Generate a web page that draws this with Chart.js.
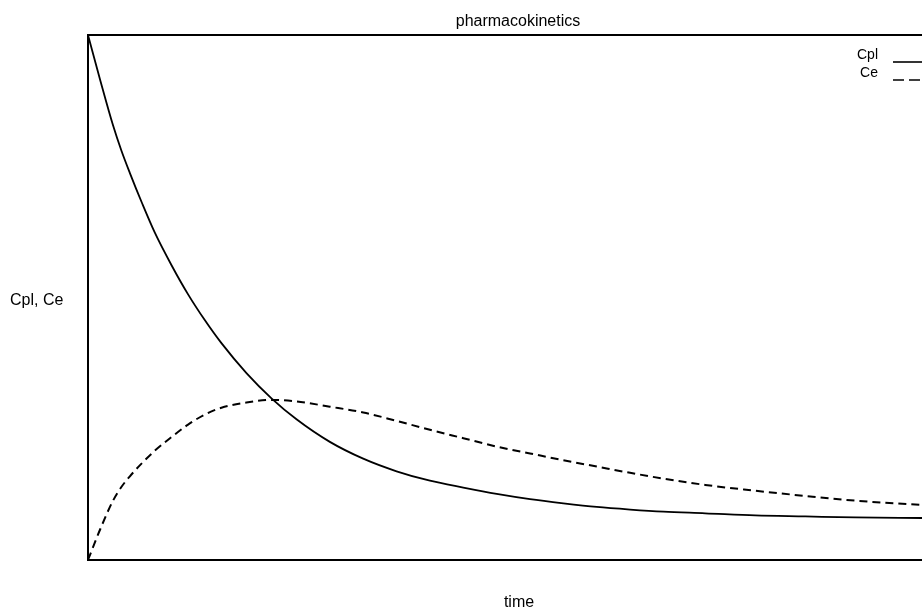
<!DOCTYPE html>
<html>
<head>
<meta charset="utf-8">
<script src="https://cdn.jsdelivr.net/npm/chart.js@4.4.0/dist/chart.umd.min.js"></script>
<style>
  html, body { margin: 0; padding: 0; background: #fff; }
</style>
</head>
<body>
<canvas id="chart" width="922" height="612"></canvas>
<script>
// values (arbitrary units, time 0..100, conc 0..100)
const time = [0, 1.5, 3, 4, 5, 6.5, 8, 10, 12, 14, 16, 19, 22, 25, 29, 33, 37, 41, 45, 49, 53, 57, 61, 65, 69, 74, 80, 86, 92, 100];
const cpl  = [100, 91.2, 82.8, 78.0, 73.8, 67.9, 62.4, 56.2, 50.6, 45.7, 41.3, 35.6, 30.8, 26.8, 22.5, 19.3, 16.9, 15.1, 13.8, 12.6, 11.6, 10.8, 10.1, 9.6, 9.2, 8.9, 8.5, 8.3, 8.1, 8.0];
const ce   = [0, 6.0, 11.3, 13.9, 15.9, 18.5, 20.8, 23.4, 25.8, 27.7, 29.0, 30.0, 30.5, 30.2, 29.2, 28.1, 26.5, 24.8, 23.2, 21.6, 20.3, 19.0, 17.8, 16.6, 15.5, 14.3, 13.2, 12.2, 11.3, 10.5];
const seriesNames = ["Cpl", "Ce"];

const FONT = '"Liberation Sans", Arial, Helvetica, sans-serif';

function pts(vals) {
  return time.map((t, i) => ({ x: t, y: vals[i] }));
}

// frame, axis titles and the little legend in the corner
const decor = {
  id: 'decor',
  afterDraw(chart) {
    const { ctx, chartArea: a } = chart;
    ctx.save();
    ctx.strokeStyle = '#000';
    ctx.lineWidth = 2;
    ctx.beginPath();
    ctx.moveTo(a.right, a.top);
    ctx.lineTo(a.left, a.top);
    ctx.lineTo(a.left, a.bottom);
    ctx.lineTo(a.right, a.bottom);
    ctx.stroke();

    ctx.fillStyle = '#000';
    ctx.font = '16px ' + FONT;
    ctx.textBaseline = 'middle';
    ctx.textAlign = 'center';
    ctx.fillText('pharmacokinetics', 518, 22);
    ctx.fillText('time', 519, 603);
    ctx.textAlign = 'left';
    ctx.fillText('Cpl, Ce', 10, 301);

    // legend
    ctx.font = '14px ' + FONT;
    ctx.textAlign = 'right';
    ctx.fillText(seriesNames[0], 878, 55);
    ctx.fillText(seriesNames[1], 878, 73);
    ctx.lineWidth = 1.6;
    ctx.beginPath();
    ctx.moveTo(893, 62);
    ctx.lineTo(922, 62);
    ctx.stroke();
    ctx.setLineDash([11, 5]);
    ctx.beginPath();
    ctx.moveTo(893, 80);
    ctx.lineTo(922, 80);
    ctx.stroke();
    ctx.restore();
  }
};

new Chart(document.getElementById('chart'), {
  type: 'line',
  data: {
    datasets: [
      {
        label: seriesNames[0],
        data: pts(cpl),
        borderColor: '#000',
        borderWidth: 1.8,
        pointRadius: 0,
        cubicInterpolationMode: 'monotone',
        clip: 4
      },
      {
        label: seriesNames[1],
        data: pts(ce),
        borderColor: '#000',
        borderWidth: 2,
        borderDash: [8, 5],
        pointRadius: 0,
        cubicInterpolationMode: 'monotone',
        clip: 4
      }
    ]
  },
  options: {
    responsive: false,
    animation: false,
    layout: { padding: { left: 88, top: 35, right: 0, bottom: 52 } },
    plugins: {
      legend: { display: false },
      title: { display: false },
      tooltip: { enabled: false }
    },
    scales: {
      x: { type: 'linear', min: 0, max: 100, display: false },
      y: { min: 0, max: 100, display: false }
    }
  },
  plugins: [decor]
});
</script>
</body>
</html>
